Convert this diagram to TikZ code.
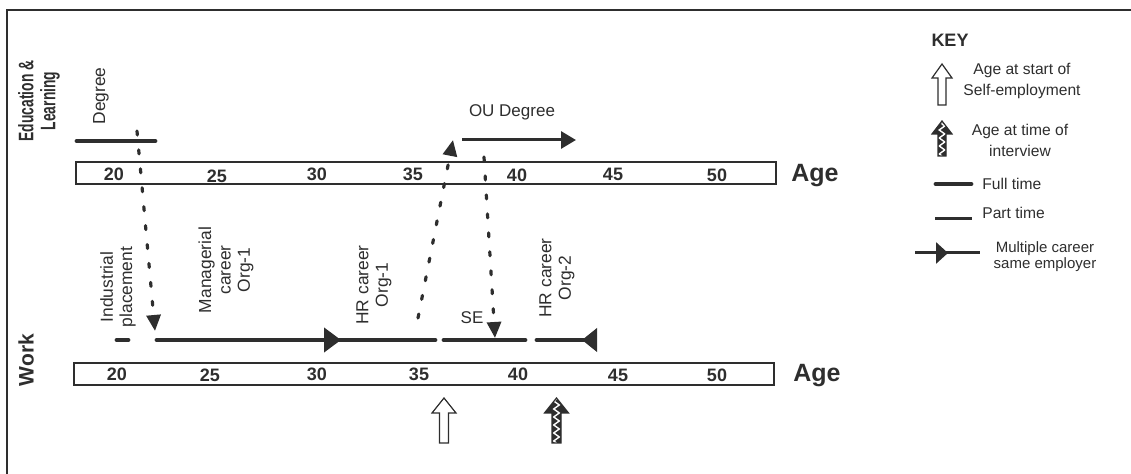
\documentclass[tikz,border=0pt]{standalone}
\usepackage{fontspec}
\setmainfont{Liberation Sans}
\newfontfamily\narrowsans[FakeStretch=0.66]{Liberation Sans}
\usetikzlibrary{arrows.meta}
\usetikzlibrary{decorations.pathmorphing}
\usetikzlibrary{positioning}
\definecolor{ink}{gray}{0.18}

\begin{document}
\begin{tikzpicture}[x=0.5pt, y=-0.5pt,
    frame/.style={ink, line width=1pt},
    agebar/.style={ink, line width=1.2pt},
    fulltime/.style={ink, line width=2.4pt, line cap=round},
    parttime/.style={ink, line width=1.5pt},
    dotarrow/.style={ink, line width=1.6pt, line cap=round, dash pattern=on 2pt off 7.5pt, -{Triangle[length=8pt, width=7pt]}},
    rowlabel/.style={rotate=90, align=center, text=ink, font=\fontsize{10.5}{10.5}\selectfont\bfseries},
    vlabel/.style={rotate=90, align=center, text=ink, font=\fontsize{8.7}{9.7}\selectfont},
    agenum/.style={text=ink, inner sep=0pt, font=\fontsize{9}{10}\selectfont\bfseries},
    agename/.style={text=ink, font=\fontsize{12.5}{14}\selectfont\bfseries},
    keytext/.style={align=center, text=ink, inner sep=0pt, font=\fontsize{7.8}{10.5}\selectfont},
    hollow/.style={ink, line width=0.6pt, fill=white},
    checked/.style={ink, line width=0.6pt, fill=ink, path picture={
        \draw [white, line width=0.7pt, decorate, decoration={zigzag, segment length=4pt, amplitude=1.4pt}]
            (path picture bounding box.south) -- (path picture bounding box.north);}}]

    \useasboundingbox (0, 0) rectangle (1131, 474);
    \draw [frame] (7, 474) -- (7, 10) -- (1131, 10);

    \node [rowlabel, font=\fontsize{10.5}{11}\selectfont\narrowsans\bfseries] (edu) at (39, 101) {Education \&\\Learning};
    \node [rowlabel] (work) at (26, 360) {Work};

    \draw [agebar] (76, 162) rectangle (776, 184);
    \node [agenum] (t20) at (114, 174) {20};
    \node [agenum] (t25) at (217, 176) {25};
    \node [agenum] (t30) at (317, 174) {30};
    \node [agenum] (t35) at (413, 174) {35};
    \node [agenum] (t40) at (517, 175) {40};
    \node [agenum] (t45) at (613, 174) {45};
    \node [agenum] (t50) at (717, 175) {50};
    \node [agename] (tage) at (815, 176) {Age};

    \draw [agebar] (74, 363) rectangle (774, 385);
    \node [agenum] (w20) at (117, 374) {20};
    \node [agenum] (w25) at (210, 375) {25};
    \node [agenum] (w30) at (317, 374) {30};
    \node [agenum] (w35) at (419, 374) {35};
    \node [agenum] (w40) at (518, 374) {40};
    \node [agenum] (w45) at (618, 375) {45};
    \node [agenum] (w50) at (717, 375) {50};
    \node [agename] (wage) at (817, 376) {Age};

    \draw [fulltime] (77, 141) -- (155, 141);
    \node [vlabel] (degree) at (101, 96) {Degree};
    \draw [parttime, -{Triangle[length=7.5pt, width=8.5pt]}] (462, 140) -- (576, 140);
    \node [keytext, font=\fontsize{8.5}{10}\selectfont] (oudeg) at (512, 112) {OU Degree};

    \draw [fulltime] (117, 340) -- (128, 340);
    \draw [fulltime, -{Triangle[length=8.5pt, width=12pt]}] (157, 340) -- (341, 340);
    \draw [fulltime] (339, 340) -- (435, 340);
    \draw [fulltime] (444, 340) -- (525, 340);
    \draw [fulltime, -{Triangle[reversed, length=7.5pt, width=11.5pt]}] (537, 340) -- (597, 340);

    \node [vlabel] (indpl) at (118, 287) {Industrial\\placement};
    \node [vlabel] (mgr) at (226, 270) {Managerial\\career\\Org-1};
    \node [vlabel] (hr1) at (374, 285) {HR career\\Org-1};
    \node [keytext, font=\fontsize{8.5}{10}\selectfont] (se) at (472, 318) {SE};
    \node [vlabel] (hr2) at (557, 278) {HR career\\Org-2};

    \coordinate (degdrop) at (137, 131);
    \coordinate (mgrstart) at (155, 331);
    \draw [dotarrow] (degdrop) -- (mgrstart);
    \coordinate (seup) at (418, 318);
    \coordinate (oustart) at (453, 140);
    \draw [dotarrow] (seup) -- (oustart);
    \coordinate (oudrop) at (484, 157);
    \coordinate (sedrop) at (495, 338);
    \draw [dotarrow] (oudrop) -- (sedrop);

    \draw [hollow] (439.5, 443) -- (439.5, 413) -- (432, 413) -- (444, 398) -- (456, 413) -- (448.5, 413) -- (448.5, 443) -- cycle;
    \draw [checked] (552, 443) -- (552, 413) -- (544.5, 413) -- (556.5, 398) -- (568.5, 413) -- (561, 413) -- (561, 443) -- cycle;

    \node [keytext, font=\fontsize{9}{10}\selectfont\bfseries] (key) at (950, 40) {KEY};
    \draw [hollow] (938, 105) -- (938, 78) -- (932, 78) -- (942, 64) -- (952, 78) -- (946, 78) -- (946, 105) -- cycle;
    \node [keytext] (startse) at (1022, 81) {Age at start of\\Self-employment};
    \draw [checked] (938, 156) -- (938, 134) -- (932, 134) -- (942, 121) -- (952, 134) -- (946, 134) -- (946, 156) -- cycle;
    \node [keytext] (interview) at (1020, 140) {Age at time of\\interview};
    \draw [fulltime] (936, 184) -- (971, 184);
    \node [keytext, anchor=west] (ft) at (982, 184) {Full time};
    \draw [parttime] (935, 219) -- (972, 219);
    \node [keytext, anchor=west] (pt) at (982, 213) {Part time};
    \draw [parttime, -{Triangle[length=6pt, width=10.5pt]}] (915, 253) -- (948, 253);
    \draw [parttime] (946, 253) -- (980, 253);
    \node [keytext, font=\fontsize{7.5}{8}\selectfont] (multi) at (1045, 257) {Multiple career\\same employer};
\end{tikzpicture}
\end{document}
